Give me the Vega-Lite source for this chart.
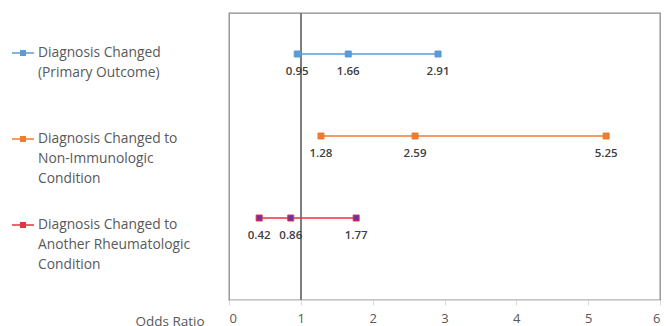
{
  "$schema": "https://vega.github.io/schema/vega-lite/v6.json",
  "width": 431,
  "height": 287,
  "autosize": {"type": "none"},
  "padding": {"left": 229, "top": 13, "right": 6, "bottom": 26},
  "background": "white",
  "config": {
    "font": "Open Sans",
    "view": {"stroke": "#8a8a8a", "strokeWidth": 1.3},
    "legend": {"orient": "none", "legendX": -218, "legendY": 28},
    "style": {"guide-label": {"lineHeight": 20}}
  },
  "data": {
    "values": [
      {"series": "Diagnosis Changed|(Primary Outcome)| ", "row": 3, "value": 0.95},
      {"series": "Diagnosis Changed|(Primary Outcome)| ", "row": 3, "value": 1.66},
      {"series": "Diagnosis Changed|(Primary Outcome)| ", "row": 3, "value": 2.91},
      {"series": "Diagnosis Changed to|Non-Immunologic|Condition", "row": 2, "value": 1.28},
      {"series": "Diagnosis Changed to|Non-Immunologic|Condition", "row": 2, "value": 2.59},
      {"series": "Diagnosis Changed to|Non-Immunologic|Condition", "row": 2, "value": 5.25},
      {"series": "Diagnosis Changed to|Another Rheumatologic|Condition", "row": 1, "value": 0.42},
      {"series": "Diagnosis Changed to|Another Rheumatologic|Condition", "row": 1, "value": 0.86},
      {"series": "Diagnosis Changed to|Another Rheumatologic|Condition", "row": 1, "value": 1.77}
    ]
  },
  "encoding": {
    "x": {
      "field": "value", "type": "quantitative",
      "scale": {"domain": [0, 6], "nice": false, "zero": false},
      "axis": {
        "values": [0, 1, 2, 3, 4, 5, 6], "grid": false, "title": "Odds Ratio",
        "domainColor": "#d9d9d9", "tickColor": "#d9d9d9", "tickSize": 5,
        "labelFontSize": 13, "labelColor": "#595959", "labelPadding": 7,
        "titleFontSize": 13.5, "titleFontWeight": "normal", "titleColor": "#595959",
        "titleAnchor": "start", "titleAlign": "left", "titleBaseline": "middle",
        "titleX": -94, "titleY": 21
      }
    },
    "y": {
      "field": "row", "type": "quantitative",
      "scale": {"domain": [0, 3.5], "nice": false, "zero": false},
      "axis": null
    }
  },
  "layer": [
    {
      "mark": {"type": "rule", "color": "#7f7f7f", "strokeWidth": 1.5},
      "encoding": {"x": {"datum": 1}, "y": {"value": 0}, "y2": {"value": 287}}
    },
    {
      "mark": {"type": "line", "strokeWidth": 1.5},
      "encoding": {
        "stroke": {
          "field": "series", "type": "nominal", "sort": null,
          "scale": {"range": ["#5b9bd5", "#ed7d31", "#e8323f"]}
        },
        "detail": {"field": "series"}
      }
    },
    {
      "mark": {"type": "point", "shape": "square", "filled": true, "size": 36, "opacity": 1, "strokeWidth": 1},
      "encoding": {
        "stroke": {
          "field": "series", "type": "nominal", "sort": null,
          "scale": {"range": ["#5b9bd5", "#ed7d31", "#e8323f"]},
          "legend": {
            "title": null,
            "symbolType": "M-1,0H1M-0.27,-0.2H0.27M-0.27,-0.07H0.27M-0.27,0.07H0.27M-0.27,0.2H0.27",
            "symbolSize": 484,
            "symbolStrokeWidth": 1.5,
            "symbolFillColor": "transparent",
            "labelExpr": "split(datum.label, '|')",
            "labelFontSize": 13.8,
            "labelColor": "#595959",
            "labelLimit": 300,
            "labelOffset": 3,
            "rowPadding": 27,
            "encode": {
              "labels": {"update": {"lineHeight": {"value": 20}}},
              "symbols": {"update": {"fill": {"value": "transparent"}, "opacity": {"value": 1}}}
            }
          }
        },
        "fill": {
          "field": "series", "type": "nominal", "sort": null,
          "scale": {"range": ["#5b9bd5", "#ed7d31", "#7030a0"]},
          "legend": null
        }
      }
    },
    {
      "mark": {"type": "text", "dy": 18, "fontSize": 11.5, "fontWeight": 600, "color": "#404040"},
      "encoding": {"text": {"field": "value", "type": "quantitative", "format": ".2f"}}
    }
  ]
}
